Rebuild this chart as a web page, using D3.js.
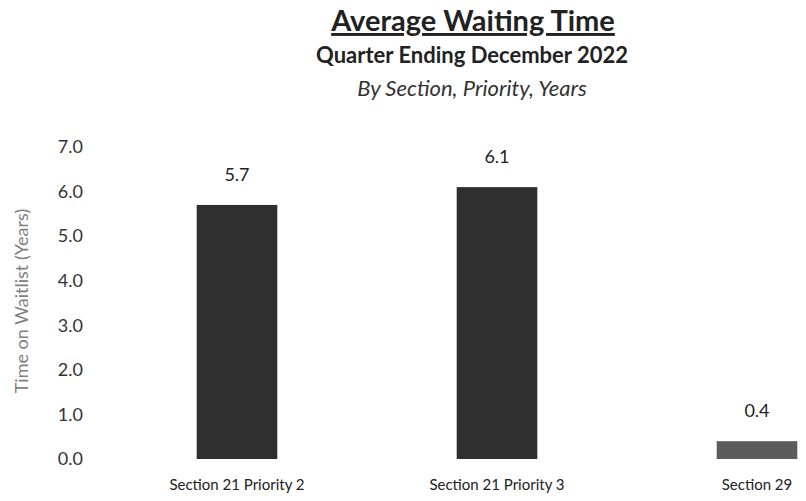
<!DOCTYPE html>
<html>
<head>
<meta charset="utf-8">
<script src="https://cdn.jsdelivr.net/npm/d3@7"></script>
<style>
  body { margin: 0; background: #fff; }
  svg { display: block; }
</style>
</head>
<body>
<div id="app"></div>
<script>
// Chart data
const categories = ["Section 21 Priority 2", "Section 21 Priority 3", "Section 29"];
const waitYears = [5.7, 6.1, 0.4];
const barColors = ["#2f2f2f", "#2f2f2f", "#5c5c5c"];
const yTicks = [0, 1, 2, 3, 4, 5, 6, 7];

const width = 806, height = 501;
const font = "Lato, 'Open Sans', sans-serif";

const svg = d3.select("#app")
  .append("svg")
  .attr("width", width)
  .attr("height", height)
  .style("font-family", font);

// Scales
const x = d3.scaleBand()
  .domain(categories)
  .range([107, 887])
  .paddingInner(0.69)
  .paddingOuter(0.345);

const y = d3.scaleLinear()
  .domain([0, 7])
  .range([459, 147]);

// Titles
svg.append("text")
  .attr("x", 473).attr("y", 31)
  .attr("text-anchor", "middle")
  .attr("font-size", 29).attr("font-weight", "bold")
  .attr("fill", "#222")
  .style("text-decoration", "underline")
  .text("Average Waiting Time");

svg.append("text")
  .attr("x", 472).attr("y", 63)
  .attr("text-anchor", "middle")
  .attr("font-size", 22).attr("font-weight", "bold")
  .attr("fill", "#222")
  .text("Quarter Ending December 2022");

svg.append("text")
  .attr("x", 472).attr("y", 96)
  .attr("text-anchor", "middle")
  .attr("font-size", 22).attr("font-style", "italic")
  .attr("fill", "#333")
  .text("By Section, Priority, Years");

// Y axis (labels only)
svg.append("g")
  .attr("transform", "translate(83,0)")
  .call(d3.axisLeft(y).tickValues(yTicks).tickFormat(d3.format(".1f")).tickSize(0).tickPadding(0))
  .call(g => g.select(".domain").remove())
  .call(g => g.selectAll("text")
    .attr("font-family", font)
    .attr("font-size", 18)
    .attr("fill", "#333"));

svg.append("text")
  .attr("transform", "translate(28,301) rotate(-90)")
  .attr("text-anchor", "middle")
  .attr("font-size", 18)
  .attr("fill", "#808080")
  .text("Time on Waitlist (Years)");

// Bars
svg.append("g")
  .selectAll("rect")
  .data(waitYears)
  .join("rect")
  .attr("x", (d, i) => x(categories[i]))
  .attr("y", d => y(d))
  .attr("width", x.bandwidth())
  .attr("height", d => y(0) - y(d))
  .attr("fill", (d, i) => barColors[i]);

// Value labels
svg.append("g")
  .selectAll("text")
  .data(waitYears)
  .join("text")
  .attr("x", (d, i) => x(categories[i]) + x.bandwidth() / 2)
  .attr("y", d => y(d) - 24)
  .attr("text-anchor", "middle")
  .attr("font-size", 18)
  .attr("fill", "#222")
  .text(d => d.toFixed(1));

// X axis labels
svg.append("g")
  .attr("transform", "translate(0,479)")
  .call(d3.axisBottom(x).tickSize(0).tickPadding(0))
  .call(g => g.select(".domain").remove())
  .call(g => g.selectAll("text")
    .attr("font-family", font)
    .attr("font-size", 15)
    .attr("fill", "#222"));
</script>
</body>
</html>
